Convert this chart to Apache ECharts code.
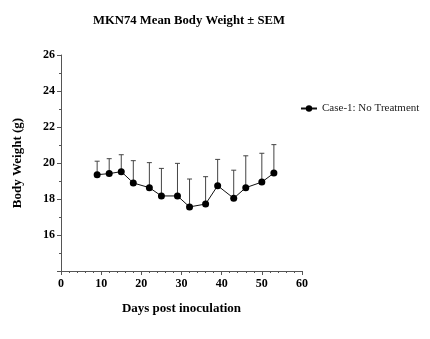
<!DOCTYPE html>
<html><head><meta charset="utf-8">
<script src="https://cdn.jsdelivr.net/npm/echarts@6/dist/echarts.min.js"></script>
<style>html,body{margin:0;padding:0;background:#fff}#c{width:430px;height:339px}</style>
</head><body><div id="c"></div>
<script>
var days = [9, 12, 15, 18, 22, 25, 29, 32, 36, 39, 43, 46, 50, 53];
var meanWeight = [19.35, 19.41, 19.52, 18.89, 18.63, 18.17, 18.17, 17.56, 17.72, 18.74, 18.04, 18.63, 18.94, 19.44];
var semUpper = [20.1, 20.24, 20.46, 20.13, 20.02, 19.7, 19.98, 19.11, 19.24, 20.2, 19.6, 20.4, 20.54, 21.02];
var yTicks = [16, 18, 20, 22, 24, 26];
var xTicks = [0, 10, 20, 30, 40, 50, 60];
var seriesName = 'Case-1: No Treatment';

var FONT = '"Liberation Serif", "DejaVu Serif", serif';
var lineData = days.map(function (d, i) { return [d, meanWeight[i]]; });
var errData = days.map(function (d, i) { return [d, meanWeight[i], semUpper[i]]; });

var chart = echarts.init(document.getElementById('c'), null, {renderer: 'canvas'});
chart.setOption({
  animation: false,
  backgroundColor: '#fff',
  title: {
    text: 'MKN74 Mean Body Weight ± SEM',
    left: 88, top: 9,
    textStyle: {fontFamily: FONT, fontSize: 12.7, fontWeight: 'bold', color: '#000'}
  },
  legend: {
    left: 295, top: 98,
    itemWidth: 16, itemHeight: 8, itemGap: 5,
    textStyle: {fontFamily: FONT, fontSize: 11, color: '#222'},
    data: [seriesName]
  },
  grid: {left: 61, right: 128, top: 55, bottom: 68, containLabel: false},
  xAxis: {
    type: 'value', min: 0, max: 60, interval: 10,
    name: 'Days post inoculation', nameLocation: 'middle', nameGap: 31,
    nameTextStyle: {fontFamily: FONT, fontSize: 13, fontWeight: 'bold', color: '#000'},
    axisLine: {show: true, lineStyle: {color: '#555', width: 1}},
    axisTick: {show: true, length: 4, lineStyle: {color: '#555'}},
    minorTick: {show: true, splitNumber: 5, length: 2, lineStyle: {color: '#555'}},
    splitLine: {show: false},
    axisLabel: {fontFamily: FONT, fontSize: 12, fontWeight: 'bold', color: '#000', margin: 7,
      formatter: function (v) { return xTicks.indexOf(v) >= 0 ? String(v) : ''; }}
  },
  yAxis: {
    type: 'value', min: 14, max: 26, interval: 2,
    name: 'Body Weight (g)', nameLocation: 'middle', nameGap: 37,
    nameTextStyle: {fontFamily: FONT, fontSize: 13, fontWeight: 'bold', color: '#000'},
    axisLine: {show: true, lineStyle: {color: '#555', width: 1}},
    axisTick: {show: true, length: 4, lineStyle: {color: '#555'}},
    minorTick: {show: true, splitNumber: 2, length: 2, lineStyle: {color: '#555'}},
    splitLine: {show: false},
    axisLabel: {fontFamily: FONT, fontSize: 12, fontWeight: 'bold', color: '#000', margin: 6,
      formatter: function (v) { return yTicks.indexOf(v) >= 0 ? String(v) : ''; }}
  },
  series: [
    {
      type: 'custom',
      name: 'SEM',
      data: errData,
      z: 1,
      renderItem: function (params, api) {
        var x = api.value(0);
        var lo = api.coord([x, api.value(1)]);
        var hi = api.coord([x, api.value(2)]);
        var cap = 2.5;
        return {
          type: 'group',
          children: [
            {type: 'line', shape: {x1: lo[0], y1: lo[1], x2: hi[0], y2: hi[1]}, style: {stroke: '#444', lineWidth: 1}},
            {type: 'line', shape: {x1: hi[0] - cap, y1: hi[1], x2: hi[0] + cap, y2: hi[1]}, style: {stroke: '#444', lineWidth: 1}}
          ]
        };
      }
    },
    {
      type: 'line',
      name: seriesName,
      data: lineData,
      z: 3,
      symbol: 'circle',
      symbolSize: 7,
      lineStyle: {color: '#111', width: 1},
      itemStyle: {color: '#000'}
    }
  ]
});
</script>
</body></html>
